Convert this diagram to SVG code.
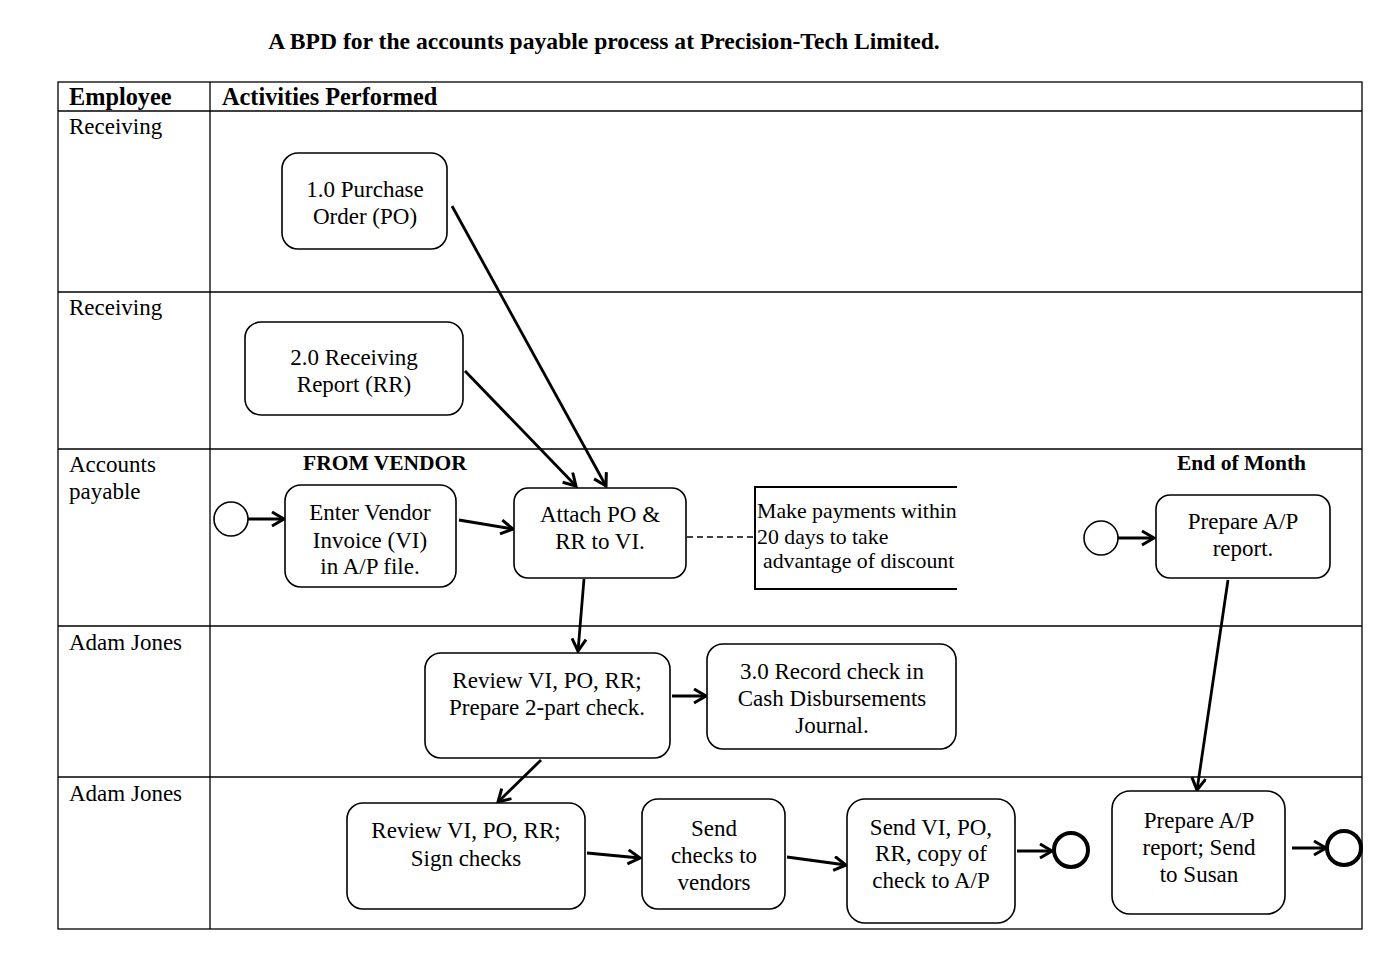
<svg xmlns="http://www.w3.org/2000/svg" width="1400" height="960" viewBox="0 0 1400 960">
<style>
text{font-family:"Liberation Serif","Times New Roman",serif;fill:#000}
.t{font-size:23px;text-anchor:middle}
.lbl{font-size:23px}
.hdr{font-size:24.3px;font-weight:bold}
.bold{font-size:21.5px;font-weight:bold}
.note{font-size:21.8px}
.box{fill:#fff;stroke:#000;stroke-width:1.6}
.grid{stroke:#000;stroke-width:1.3;fill:none}
.c{stroke:#000;stroke-width:2.8;fill:none;marker-end:url(#ah)}
.start{fill:#fff;stroke:#000;stroke-width:1.6}
.end{fill:#fff;stroke:#000;stroke-width:4}
</style>
<defs>
<marker id="ah" markerUnits="userSpaceOnUse" markerWidth="20" markerHeight="20" refX="14" refY="8" orient="auto">
<path d="M2,1 L14,8 L2,15" fill="none" stroke="#000" stroke-width="3"/>
</marker>
</defs>
<rect width="1400" height="960" fill="#fff"/>
<text x="604" y="49" style="font-size:23.6px;font-weight:bold" text-anchor="middle">A BPD for the accounts payable process at Precision-Tech Limited.</text>
<g id="table">
<rect x="58" y="82" width="1304" height="847" class="grid"/>
<line x1="210" y1="82" x2="210" y2="929" class="grid"/>
<line x1="58" y1="111" x2="1362" y2="111" class="grid"/>
<line x1="58" y1="292" x2="1362" y2="292" class="grid"/>
<line x1="58" y1="449" x2="1362" y2="449" class="grid"/>
<line x1="58" y1="626" x2="1362" y2="626" class="grid"/>
<line x1="58" y1="777" x2="1362" y2="777" class="grid"/>
<text x="69" y="105" class="hdr">Employee</text>
<text x="222" y="105" class="hdr">Activities Performed</text>
<text x="69" y="134" class="lbl">Receiving</text>
<text x="69" y="315" class="lbl">Receiving</text>
<text x="69" y="472" class="lbl">Accounts</text>
<text x="69" y="499" class="lbl">payable</text>
<text x="69" y="650" class="lbl">Adam Jones</text>
<text x="69" y="801" class="lbl">Adam Jones</text>
<text x="303" y="470" class="bold">FROM VENDOR</text>
<text x="1177" y="470" class="bold">End of Month</text>
</g>
<g id="connectors">
<line x1="452" y1="206" x2="606" y2="486" class="c"/>
<line x1="465" y1="371" x2="576" y2="486" class="c"/>
<line x1="248" y1="519" x2="284" y2="519" class="c"/>
<line x1="459" y1="520" x2="513" y2="529" class="c"/>
<line x1="687" y1="537" x2="755" y2="537" stroke="#000" stroke-width="1.3" stroke-dasharray="6,4"/>
<line x1="584" y1="579" x2="578" y2="651" class="c"/>
<line x1="672" y1="696" x2="706" y2="696" class="c"/>
<line x1="541" y1="760" x2="498" y2="802" class="c"/>
<line x1="587" y1="853" x2="640" y2="858" class="c"/>
<line x1="787" y1="857" x2="846" y2="865" class="c"/>
<line x1="1017" y1="851" x2="1052" y2="851" class="c"/>
<line x1="1118" y1="538" x2="1154" y2="538" class="c"/>
<line x1="1228" y1="580" x2="1197" y2="790" class="c"/>
<line x1="1292" y1="848" x2="1326" y2="848" class="c"/>
</g>
<g id="n1"><rect x="282" y="153" width="165" height="96" rx="16" class="box"/>
<text class="t" x="365" y="197">1.0 Purchase</text><text class="t" x="365" y="224">Order (PO)</text></g>
<g id="n2"><rect x="245" y="322" width="218" height="93" rx="16" class="box"/>
<text class="t" x="354" y="365">2.0 Receiving</text><text class="t" x="354" y="392">Report (RR)</text></g>
<g id="start1"><circle cx="231" cy="519" r="17" class="start"/></g>
<g id="n3"><rect x="285" y="485" width="171" height="102" rx="16" class="box"/>
<text class="t" x="370" y="520">Enter Vendor</text><text class="t" x="370" y="548">Invoice (VI)</text><text class="t" x="370" y="574">in A/P file.</text></g>
<g id="n4"><rect x="514" y="488" width="172" height="90" rx="14" class="box"/>
<text class="t" x="600" y="522">Attach PO &amp;</text><text class="t" x="600" y="549">RR to VI.</text></g>
<g id="note"><path d="M957,487 L755,487 L755,589 L957,589" fill="none" stroke="#000" stroke-width="2"/>
<text class="note" x="757" y="518">Make payments within</text><text class="note" x="757" y="544">20 days to take</text><text class="note" x="763" y="568">advantage of discount</text></g>
<g id="start2"><circle cx="1101" cy="538" r="17" class="start"/></g>
<g id="n5"><rect x="1156" y="495" width="174" height="83" rx="14" class="box"/>
<text class="t" x="1243" y="529">Prepare A/P</text><text class="t" x="1243" y="556">report.</text></g>
<g id="n6"><rect x="425" y="653" width="245" height="105" rx="16" class="box"/>
<text class="t" x="547" y="688">Review VI, PO, RR;</text><text class="t" x="547" y="715">Prepare 2-part check.</text></g>
<g id="n7"><rect x="707" y="644" width="249" height="105" rx="16" class="box"/>
<text class="t" x="832" y="679">3.0 Record check in</text><text class="t" x="832" y="706">Cash Disbursements</text><text class="t" x="832" y="733">Journal.</text></g>
<g id="n8"><rect x="347" y="803" width="238" height="106" rx="16" class="box"/>
<text class="t" x="466" y="838">Review VI, PO, RR;</text><text class="t" x="466" y="866">Sign checks</text></g>
<g id="n9"><rect x="642" y="799" width="143" height="110" rx="16" class="box"/>
<text class="t" x="714" y="836">Send</text><text class="t" x="714" y="863">checks to</text><text class="t" x="714" y="890">vendors</text></g>
<g id="n10"><rect x="847" y="799" width="168" height="124" rx="18" class="box"/>
<text class="t" x="931" y="835">Send VI, PO,</text><text class="t" x="931" y="861">RR, copy of</text><text class="t" x="931" y="888">check to A/P</text></g>
<g id="end1"><circle cx="1071" cy="850" r="17" class="end"/></g>
<g id="n11"><rect x="1112" y="791" width="173" height="123" rx="18" class="box"/>
<text class="t" x="1199" y="828">Prepare A/P</text><text class="t" x="1199" y="855">report; Send</text><text class="t" x="1199" y="882">to Susan</text></g>
<g id="end2"><circle cx="1344" cy="848" r="17" class="end"/></g>
</svg>
